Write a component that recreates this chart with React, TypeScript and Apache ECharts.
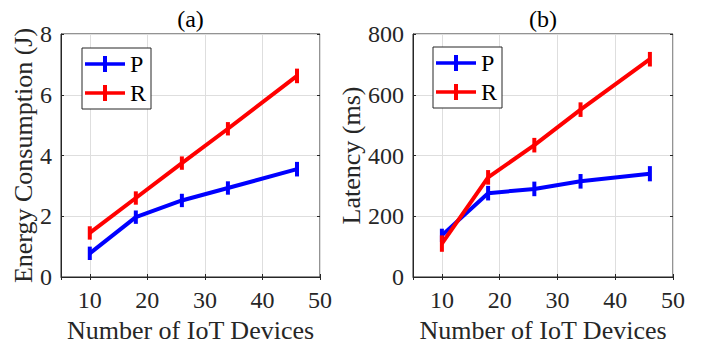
import React, { useEffect, useRef } from "react";
import * as echarts from "echarts";

const devices = [10, 18, 26, 34, 46];
const energyP = [0.78, 1.97, 2.52, 2.93, 3.55];
const energyR = [1.45, 2.6, 3.75, 4.88, 6.62];
const energyErrP = [0.22, 0.22, 0.22, 0.22, 0.24];
const energyErrR = [0.22, 0.22, 0.22, 0.22, 0.24];
const latencyP = [137, 276, 290, 315, 340];
const latencyR = [110, 328, 434, 551, 717];
const latencyErrP = [22, 24, 24, 24, 25];
const latencyErrR = [27, 24, 24, 24, 24];
const xTicks = [10, 20, 30, 40, 50];
const legendNames = ["P", "R"];

const BLUE = "#0000ff";
const RED = "#ff0000";
const AXIS = "#262626";
const GRID = "#dedede";
const FONT = "Liberation Serif, DejaVu Serif, serif";

export default function App() {
  const ref = useRef<HTMLDivElement>(null);
  useEffect(() => {
    if (!ref.current) return;
    const chart = echarts.init(ref.current, undefined, { renderer: "svg" });

    const grids = [
      { left: 61, top: 34, width: 259, height: 243 },
      { left: 413, top: 34, width: 260, height: 243 },
    ];

    const mkX = (gi: number) => ({
      type: "value",
      gridIndex: gi,
      min: 5,
      max: xTicks[xTicks.length - 1],
      splitNumber: 5,
      name: "Number of IoT Devices",
      nameLocation: "middle",
      nameGap: 40,
      nameTextStyle: { fontFamily: FONT, fontSize: 26, color: AXIS },
      axisLine: { show: true, lineStyle: { color: AXIS, width: 1 } },
      axisTick: { show: true, inside: true, length: 3, lineStyle: { color: AXIS } },
      axisLabel: {
        showMinLabel: false,
        fontFamily: FONT,
        fontSize: 24,
        color: AXIS,
        margin: 11,
      },
      splitLine: { show: true, lineStyle: { color: GRID, width: 1 } },
    });
    const mkXTop = (gi: number) => ({
      type: "value",
      gridIndex: gi,
      position: "top",
      min: 5,
      max: xTicks[xTicks.length - 1],
      splitNumber: 5,
      axisLine: { show: false },
      axisTick: { show: true, inside: true, length: 3, lineStyle: { color: AXIS } },
      axisLabel: { show: false },
      splitLine: { show: false },
    });
    const mkY = (gi: number, max: number, interval: number, name: string, gap: number) => ({
      type: "value",
      gridIndex: gi,
      min: 0,
      max,
      interval,
      name,
      nameLocation: "middle",
      nameGap: gap,
      nameTextStyle: { fontFamily: FONT, fontSize: 26, color: AXIS },
      axisLine: { show: true, lineStyle: { color: AXIS, width: 1 } },
      axisTick: { show: true, inside: true, length: 3, lineStyle: { color: AXIS } },
      axisLabel: { fontFamily: FONT, fontSize: 24, color: AXIS, margin: 9 },
      splitLine: { show: true, lineStyle: { color: GRID, width: 1 } },
    });
    const mkYRight = (gi: number, max: number, interval: number) => ({
      type: "value",
      gridIndex: gi,
      position: "right",
      min: 0,
      max,
      interval,
      axisLine: { show: false },
      axisTick: { show: true, inside: true, length: 3, lineStyle: { color: AXIS } },
      axisLabel: { show: false },
      splitLine: { show: false },
    });

    const zip = (xs: number[], ys: number[]) => xs.map((x, i) => [x, ys[i]]);
    const zip3 = (xs: number[], ys: number[], es: number[]) => xs.map((x, i) => [x, ys[i], es[i]]);

    const lineSeries = (name: string, color: string, data: number[][], axis: number) => ({
      type: "line",
      name,
      xAxisIndex: axis,
      yAxisIndex: axis,
      data,
      symbol: "none",
      lineStyle: { color, width: 4 },
      itemStyle: { color },
      z: 3,
    });
    const errSeries = (name: string, color: string, data: number[][], axis: number) => ({
      type: "custom",
      name,
      xAxisIndex: axis,
      yAxisIndex: axis,
      data,
      z: 4,
      renderItem: (params: any, api: any) => {
        const x = api.value(0);
        const y = api.value(1);
        const e = api.value(2);
        const p1 = api.coord([x, y - e]);
        const p2 = api.coord([x, y + e]);
        return {
          type: "line",
          shape: { x1: p1[0], y1: p1[1], x2: p2[0], y2: p2[1] },
          style: { stroke: color, lineWidth: 4 },
        };
      },
    });

    const legendIcon = "path://M0,6.2 L40,6.2 L40,9.8 L0,9.8 Z M18,0 L22,0 L22,16 L18,16 Z";
    const mkLegend = (left: number, top: number) => ({
      data: legendNames,
      orient: "vertical",
      left,
      top,
      icon: legendIcon,
      itemWidth: 40,
      itemHeight: 16,
      itemGap: 3,
      padding: [3, 5, 3, 3],
      borderColor: AXIS,
      borderWidth: 1,
      backgroundColor: "#ffffff",
      itemStyle: { borderWidth: 0 },
      textStyle: { fontFamily: FONT, fontSize: 24, color: "#000", lineHeight: 26 },
      selectedMode: false,
    });

    chart.setOption({
      animation: false,
      backgroundColor: "#ffffff",
      textStyle: { fontFamily: FONT },
      grid: grids.map((g) => ({
        ...g,
        show: true,
        borderColor: AXIS,
        borderWidth: 1,
        backgroundColor: "transparent",
        containLabel: false,
        outerBoundsMode: "none",
      })),
      xAxis: [mkX(0), mkX(1), mkXTop(0), mkXTop(1)],
      yAxis: [
        mkY(0, 8, 2, "Energy Consumption (J)", 25),
        mkY(1, 800, 200, "Latency (ms)", 45),
        mkYRight(0, 8, 2),
        mkYRight(1, 800, 200),
      ],
      legend: [mkLegend(82, 48), mkLegend(433, 47)],
      graphic: [
        {
          type: "text",
          x: 190.5,
          y: 19,
          style: { text: "(a)", fontFamily: FONT, fontSize: 24, fill: "#000", align: "center", verticalAlign: "middle" },
        },
        {
          type: "text",
          x: 543,
          y: 19,
          style: { text: "(b)", fontFamily: FONT, fontSize: 24, fill: "#000", align: "center", verticalAlign: "middle" },
        },
      ],
      series: [
        lineSeries("P", BLUE, zip(devices, energyP), 0),
        lineSeries("R", RED, zip(devices, energyR), 0),
        errSeries("P err", BLUE, zip3(devices, energyP, energyErrP), 0),
        errSeries("R err", RED, zip3(devices, energyR, energyErrR), 0),
        lineSeries("P", BLUE, zip(devices, latencyP), 1),
        lineSeries("R", RED, zip(devices, latencyR), 1),
        errSeries("P err", BLUE, zip3(devices, latencyP, latencyErrP), 1),
        errSeries("R err", RED, zip3(devices, latencyR, latencyErrR), 1),
      ],
    });
    return () => chart.dispose();
  }, []);
  return (
    <div
      ref={ref}
      style={{ position: "fixed", left: 0, top: 0, width: 704, height: 343, background: "#fff" }}
    />
  );
}
